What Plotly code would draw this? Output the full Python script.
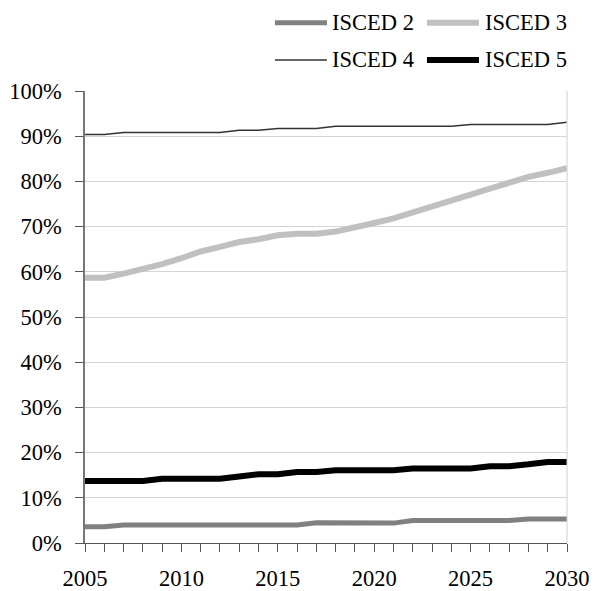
import plotly.graph_objects as go

years = list(range(2005, 2031))

# shares in percent
isced2 = [3.6, 3.6, 4.0, 4.0, 4.0, 4.0, 4.0, 4.0, 4.0, 4.0, 4.0, 4.0, 4.5,
          4.5, 4.4, 4.4, 4.4, 5.0, 5.0, 5.0, 5.0, 5.0, 5.0, 5.3, 5.3, 5.3]
isced3 = [58.7, 58.7, 59.6, 60.6, 61.7, 63.0, 64.5, 65.5, 66.6, 67.2, 68.1, 68.4, 68.4,
          68.9, 69.7, 70.8, 71.8, 73.2, 74.5, 76.0, 77.1, 78.4, 79.7, 81.0, 81.9, 82.9]
isced4 = [90.4, 90.4, 90.8, 90.8, 90.8, 90.8, 90.8, 90.8, 91.3, 91.3, 91.7, 91.7, 91.7,
          92.2, 92.2, 92.2, 92.2, 92.2, 92.2, 92.2, 92.6, 92.6, 92.6, 92.6, 92.6, 93.1]
isced5 = [13.7, 13.7, 13.7, 13.7, 14.2, 14.2, 14.2, 14.2, 14.7, 15.2, 15.2, 15.7, 15.7,
          16.1, 16.1, 16.1, 16.1, 16.5, 16.5, 16.5, 16.5, 17.0, 17.0, 17.4, 17.9, 17.9]

series = [
    ('ISCED 2', isced2, '#808080', 5),
    ('ISCED 3', isced3, '#c0c0c0', 6),
    ('ISCED 4', isced4, '#333333', 1.5),
    ('ISCED 5', isced5, '#000000', 6),
]

FONT = 'Liberation Serif'
FS = 22.5

fig = go.Figure()
for name, vals, col, w in series:
    fig.add_trace(go.Scatter(
        x=years, y=[v / 100 for v in vals], name=name, mode='lines',
        line=dict(color=col, width=w), showlegend=False
    ))

# page has an 8px body margin, so the figure sits 8px in from the window corner
fig.update_layout(
    width=585, height=583,
    margin=dict(l=77, r=26, t=83, b=48, autoexpand=False),
    paper_bgcolor='white', plot_bgcolor='white',
    font=dict(family=FONT, size=FS, color='black'),
    xaxis=dict(
        range=[2005, 2030], tickvals=[2005, 2010, 2015, 2020, 2025, 2030],
        ticks='outside', ticklen=8, tickcolor='#555555',
        showline=True, linecolor='#555555', linewidth=1,
        showgrid=False, zeroline=False, ticklabelstandoff=7, automargin=False,
        minor=dict(dtick=1, ticks='outside', ticklen=8, tickcolor='#555555', showgrid=False),
    ),
    yaxis=dict(
        range=[0, 1], dtick=0.1, tickformat='.0%',
        ticks='outside', ticklen=8, tickcolor='#555555',
        showline=True, linecolor='#777777', linewidth=1.5,
        showgrid=True, gridcolor='#d4d4d4', gridwidth=1, zeroline=False,
        ticklabelstandoff=9, automargin=False,
    ),
)

# right border of the plot area
fig.add_shape(type='line', xref='paper', yref='paper', x0=1, x1=1, y0=0, y1=1,
              line=dict(color='#d0d0d0', width=1))

# legend drawn by hand: two rows, two columns
legend_pos = [
    ('ISCED 2', 0.394, 0.502, 0.508, 1.151),
    ('ISCED 3', 0.7095, 0.8174, 0.8257, 1.151),
    ('ISCED 4', 0.394, 0.502, 0.508, 1.0686),
    ('ISCED 5', 0.7095, 0.8174, 0.8257, 1.0686),
]
styles = {name: (col, w) for name, _, col, w in series}
for name, lx0, lx1, tx, ly in legend_pos:
    col, w = styles[name]
    fig.add_shape(type='line', xref='paper', yref='paper', x0=lx0, x1=lx1, y0=ly, y1=ly,
                  line=dict(color=col, width=w))
    fig.add_annotation(text=name, xref='paper', yref='paper', x=tx, y=ly,
                       xanchor='left', yanchor='middle', showarrow=False,
                       font=dict(family=FONT, size=FS, color='black'))

fig.write_html("out.html")
